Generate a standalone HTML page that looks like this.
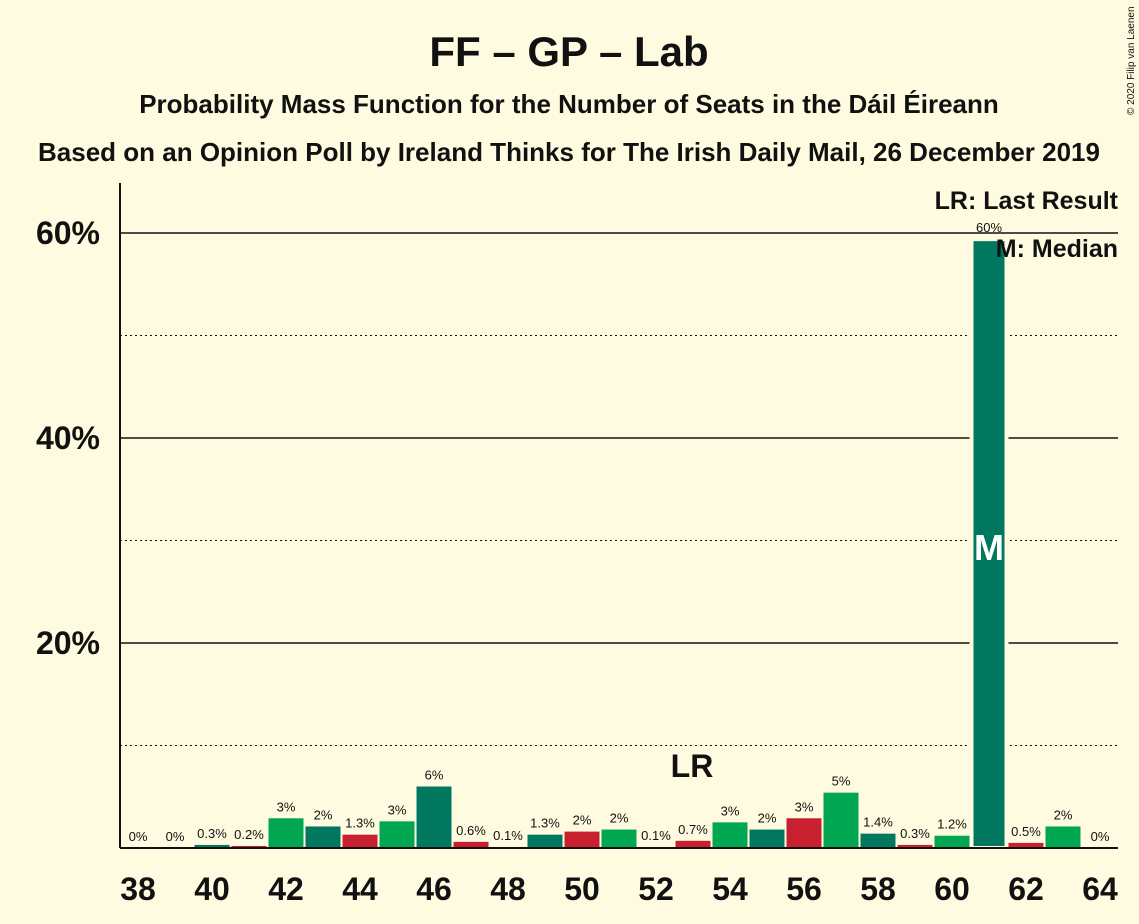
<!DOCTYPE html>
<html><head><meta charset="utf-8">
<style>
body{margin:0;background:#fffbe0;}
svg{display:block;font-family:"Liberation Sans",sans-serif;}
</style></head>
<body>
<svg width="1139" height="924" viewBox="0 0 1139 924">
<rect width="1139" height="924" fill="#fffbe0"/>
<text x="569" y="66" text-anchor="middle" font-size="42" font-weight="bold" fill="#111">FF – GP – Lab</text>
<text x="569" y="113" text-anchor="middle" font-size="26" font-weight="bold" fill="#111">Probability Mass Function for the Number of Seats in the Dáil Éireann</text>
<text x="569" y="161" text-anchor="middle" font-size="26" font-weight="bold" fill="#111">Based on an Opinion Poll by Ireland Thinks for The Irish Daily Mail, 26 December 2019</text>
<text x="1134" y="115" font-size="10" fill="#111" transform="rotate(-90 1134 115)">© 2020 Filip van Laenen</text>
<g id="grid"></g>
<g id="bars"></g>
<g id="labels"></g>
<line x1="120" y1="183" x2="120" y2="848" stroke="#111" stroke-width="2"/>
<line x1="120" y1="848" x2="1118" y2="848" stroke="#111" stroke-width="2"/>
<text x="692" y="777" text-anchor="middle" font-size="32" font-weight="bold" fill="#111">LR</text>
<text x="1118" y="209" text-anchor="end" font-size="25" font-weight="bold" fill="#111">LR: Last Result</text>
<text x="1118" y="257" text-anchor="end" font-size="25" font-weight="bold" fill="#111">M: Median</text>
</svg>
<script>
const seats=[38,39,40,41,42,43,44,45,46,47,48,49,50,51,52,53,54,55,56,57,58,59,60,61,62,63,64];
const probs=[0,0,0.3,0.2,2.9,2.1,1.3,2.6,6.0,0.6,0.1,1.3,1.6,1.8,0.1,0.7,2.5,1.8,2.9,5.4,1.4,0.3,1.2,59.4,0.5,2.1,0];
const valueLabels=["0%","0%","0.3%","0.2%","3%","2%","1.3%","3%","6%","0.6%","0.1%","1.3%","2%","2%","0.1%","0.7%","3%","2%","3%","5%","1.4%","0.3%","1.2%","60%","0.5%","2%","0%"];
const yTicks=[10,20,30,40,50,60];
const xTicks=[38,40,42,44,46,48,50,52,54,56,58,60,62,64];
const medianSeat=61;
const NS="http://www.w3.org/2000/svg";
const xs=s=>138+(s-38)*37;
const ys=p=>848-p*10.25;
const colors=["#00775f","#c8202f","#00a651"];
function mk(tag,attrs,parent){const e=document.createElementNS(NS,tag);for(const k in attrs)e.setAttribute(k,attrs[k]);parent.appendChild(e);return e;}
const grid=document.getElementById('grid'),bars=document.getElementById('bars'),labels=document.getElementById('labels');
yTicks.forEach(t=>{
  const major=t%20===0;
  const l=mk('line',{x1:120,x2:1118,y1:ys(t),y2:ys(t),stroke:'#111','stroke-width':major?1.5:1,'stroke-dasharray':major?'':'2,3'},grid);
  
  
  if(major){const tx=mk('text',{x:100,y:ys(t)+11,'text-anchor':'end','font-size':32,'font-weight':'bold',fill:'#111'},grid);tx.textContent=t+'%';
  
  }
});
xTicks.forEach(s=>{const tx=mk('text',{x:xs(s),y:900,'text-anchor':'middle','font-size':32,'font-weight':'bold',fill:'#111'},labels);tx.textContent=s;

});
seats.forEach((s,i)=>{
  const p=probs[i];
  if(p>0){
    const c=colors[((s-40)%3+3)%3];
    const r=mk('rect',{x:xs(s)-17.5,y:ys(p),width:35,height:848-ys(p),fill:c,stroke:'#fffbe0','stroke-width':p>20?4:0},bars);
    
    
  }
  const t=mk('text',{x:xs(s),y:ys(p)-7,'text-anchor':'middle','font-size':13,fill:'#111'},labels);
  t.textContent=valueLabels[i];
  
  
  if(s===medianSeat){
    const m=mk('text',{x:xs(s),y:560,'text-anchor':'middle','font-size':36,'font-weight':'bold',fill:'#fff'},labels);
    m.textContent='M';
    
    
  }
});
</script>
</body></html>
